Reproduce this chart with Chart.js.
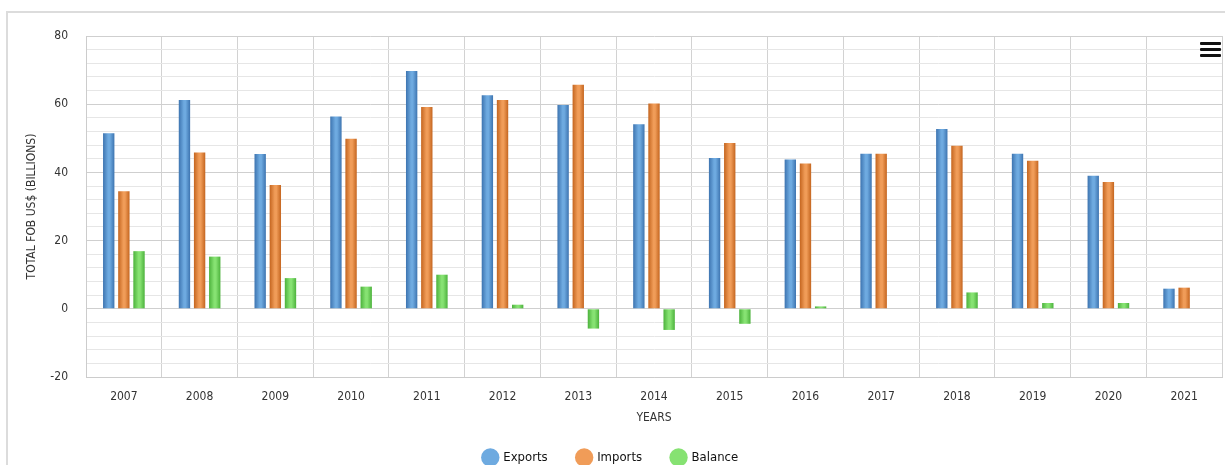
<!DOCTYPE html>
<html>
<head>
<meta charset="utf-8">
<title>Trade balance</title>
<script src="https://cdn.jsdelivr.net/npm/chart.js@4.4.1/dist/chart.umd.min.js"></script>
<style>
  html, body { margin: 0; padding: 0; background: #fff; overflow: hidden; }
  #wrap { position: relative; width: 1225px; height: 465px; overflow: hidden; }
  #frame { position: absolute; left: 6px; top: 11px; width: 1400px; height: 600px;
           border-left: 2px solid #dcdcdc; border-top: 2px solid #dcdcdc; }
  #chart { position: absolute; left: 0; top: 0; }
  .menu { position: absolute; left: 1200px; top: 42px; width: 21px; }
  .menu div { height: 3px; background: #111; border-radius: 1px; margin-bottom: 3px; }
</style>
</head>
<body>
<div id="wrap">
  <div id="frame"></div>
  <canvas id="chart" width="1225" height="474"></canvas>
  <div class="menu"><div></div><div></div><div></div></div>
</div>
<script>
'use strict'

const years = ['2007', '2008', '2009', '2010', '2011', '2012', '2013', '2014',
               '2015', '2016', '2017', '2018', '2019', '2020', '2021'];
const exports_ = [51.5, 61.2, 45.4, 56.4, 69.7, 62.6, 59.8, 54.1, 44.2, 43.8, 45.5, 52.7, 45.5, 39.0, 5.9];
const imports_ = [34.5, 45.8, 36.3, 49.9, 59.2, 61.2, 65.7, 60.2, 48.6, 42.6, 45.5, 47.8, 43.4, 37.2, 6.2];
const balance = [16.9, 15.3, 9.0, 6.5, 10.0, 1.2, -5.8, -6.2, -4.4, 0.7, null, 4.8, 1.7, 1.7, null];
const yTicks = [-20, 0, 20, 40, 60, 80];

// dark edge / light centre for each series
const shades = {
    Exports: ['#3d74b0', '#6eaae0'],
    Imports: ['#c4651f', '#f09c58'],
    Balance: ['#4cb23c', '#86e272']
};

const font = "'DejaVu Sans Condensed', 'Liberation Sans Narrow', sans-serif";

// paints every bar with a horizontal gradient, darker at the sides
const barShading = {
    id: 'barShading',
    beforeDatasetsDraw(chart) {
        const ctx = chart.ctx;
        chart.data.datasets.forEach((ds, i) => {
            const [dark, light] = shades[ds.label];
            chart.getDatasetMeta(i).data.forEach(el => {
                const {x, width} = el.getProps(['x', 'width'], true);
                const g = ctx.createLinearGradient(x - width / 2, 0, x + width / 2, 0);
                g.addColorStop(0, dark);
                g.addColorStop(0.45, light);
                g.addColorStop(0.6, light);
                g.addColorStop(1, dark);
                el.options = Object.assign({}, el.options, {backgroundColor: g});
            });
        });
    }
};

const dataset = (label, data) => ({
    label: label,
    data: data,
    backgroundColor: shades[label][1],
    borderWidth: 0,
    categoryPercentage: 0.6,
    barPercentage: 0.75
});

new Chart(document.getElementById('chart').getContext('2d'), {
    type: 'bar',
    data: {
        labels: years,
        datasets: [
            dataset('Exports', exports_),
            dataset('Imports', imports_),
            dataset('Balance', balance)
        ]
    },
    options: {
        responsive: false,
        animation: false,
        layout: { padding: { left: 0, right: 3, top: 36, bottom: 0 } },
        plugins: {
            tooltip: { enabled: false },
            legend: {
                position: 'bottom',
                labels: {
                    usePointStyle: true,
                    pointStyle: 'circle',
                    boxWidth: 14,
                    boxHeight: 14,
                    padding: 30,
                    color: '#111',
                    font: { family: font, size: 13 }
                }
            }
        },
        scales: {
            x: {
                afterFit: s => { s.height = 44; },
                grid: { color: '#d2d2d2', drawTicks: false, offset: true },
                border: { color: '#cccccc' },
                ticks: { color: '#333', padding: 13, font: { family: font, size: 12 } },
                title: { display: true, text: 'YEARS', color: '#333', padding: { top: 4, bottom: -3 },
                         font: { family: font, size: 12, lineHeight: 1 } }
            },
            y: {
                min: -20,
                max: 80,
                afterFit: s => { s.width = 86; },
                grid: {
                    drawTicks: false,
                    color: c => yTicks.includes(c.tick.value) ? '#cfcfcf' : '#e6e6e6'
                },
                border: { color: '#cccccc' },
                ticks: {
                    stepSize: 4,
                    autoSkip: false,
                    padding: 18,
                    color: '#333',
                    font: { family: font, size: 12 },
                    callback: v => yTicks.includes(v) ? v : ''
                },
                title: { display: true, text: 'TOTAL FOB US$ (BILLIONS)', color: '#333',
                         padding: { top: 25, bottom: 0 }, font: { family: font, size: 12 } }
            }
        }
    },
    plugins: [barShading]
});
</script>
</body>
</html>
